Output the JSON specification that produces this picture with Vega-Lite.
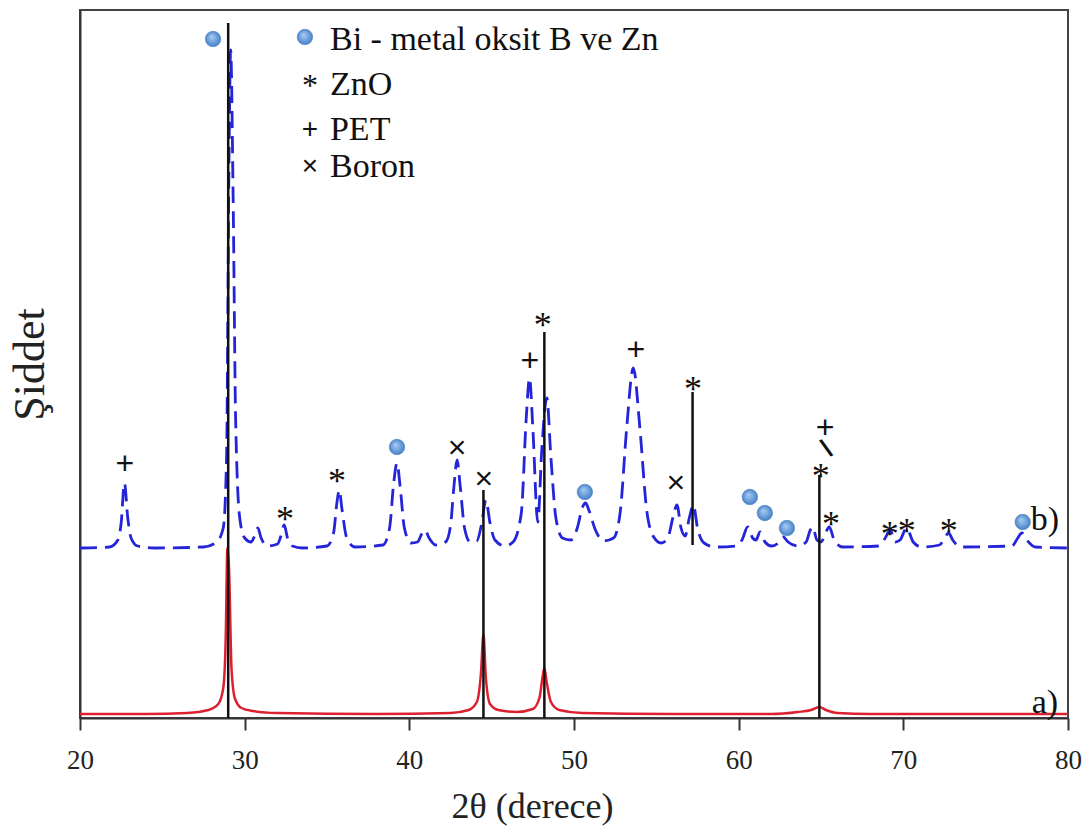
{
  "$schema": "https://vega.github.io/schema/vega-lite/v6.json",
  "width": 988,
  "height": 708,
  "autosize": {"type": "none"},
  "padding": {"left": 80, "top": 10, "right": 22, "bottom": 111},
  "background": "white",
  "config": {
    "view": {"stroke": "#444", "strokeWidth": 2},
    "axis": {"grid": false}
  },
  "datasets": {
    "curveA": [
      {"x": 20, "y": 4}, {"x": 24, "y": 4}, {"x": 26.5, "y": 5}, {"x": 27.8, "y": 8}, {"x": 28.4, "y": 14},
      {"x": 28.7, "y": 30}, {"x": 28.85, "y": 80}, {"x": 28.95, "y": 170}, {"x": 29.05, "y": 150}, {"x": 29.2, "y": 50},
      {"x": 29.4, "y": 20}, {"x": 29.8, "y": 10}, {"x": 30.5, "y": 7}, {"x": 32, "y": 5}, {"x": 38, "y": 4},
      {"x": 42.5, "y": 5}, {"x": 43.6, "y": 8}, {"x": 44.1, "y": 16}, {"x": 44.35, "y": 45}, {"x": 44.5, "y": 84},
      {"x": 44.65, "y": 40}, {"x": 44.9, "y": 14}, {"x": 45.4, "y": 8}, {"x": 46.5, "y": 6}, {"x": 47.5, "y": 9},
      {"x": 47.9, "y": 20}, {"x": 48.1, "y": 42}, {"x": 48.2, "y": 50}, {"x": 48.35, "y": 35}, {"x": 48.6, "y": 16},
      {"x": 49.1, "y": 8}, {"x": 50.5, "y": 5}, {"x": 56, "y": 4}, {"x": 62, "y": 4}, {"x": 63.6, "y": 6},
      {"x": 64.4, "y": 8}, {"x": 64.9, "y": 11}, {"x": 65.3, "y": 8}, {"x": 66, "y": 5}, {"x": 68, "y": 4}, {"x": 80, "y": 4}
    ],
    "curveB": [
      {"x": 20.0, "y": 170}, {"x": 21.8, "y": 171}, {"x": 22.3, "y": 178}, {"x": 22.5, "y": 195}, {"x": 22.7, "y": 235},
      {"x": 22.9, "y": 200}, {"x": 23.1, "y": 180}, {"x": 23.5, "y": 172}, {"x": 24.5, "y": 170}, {"x": 27.5, "y": 171},
      {"x": 28.3, "y": 176}, {"x": 28.7, "y": 190}, {"x": 28.9, "y": 260}, {"x": 29.05, "y": 560}, {"x": 29.15, "y": 668},
      {"x": 29.3, "y": 520}, {"x": 29.45, "y": 300}, {"x": 29.7, "y": 200}, {"x": 30.0, "y": 180}, {"x": 30.4, "y": 176},
      {"x": 30.6, "y": 182}, {"x": 30.8, "y": 190}, {"x": 31.0, "y": 180}, {"x": 31.4, "y": 172}, {"x": 32.0, "y": 174},
      {"x": 32.2, "y": 182}, {"x": 32.4, "y": 193}, {"x": 32.6, "y": 180}, {"x": 32.9, "y": 172}, {"x": 33.5, "y": 170},
      {"x": 35.0, "y": 172}, {"x": 35.4, "y": 185}, {"x": 35.6, "y": 215}, {"x": 35.75, "y": 228}, {"x": 35.9, "y": 210},
      {"x": 36.2, "y": 180}, {"x": 36.7, "y": 171}, {"x": 38.4, "y": 173}, {"x": 38.8, "y": 190}, {"x": 39.05, "y": 235},
      {"x": 39.25, "y": 255}, {"x": 39.45, "y": 230}, {"x": 39.7, "y": 190}, {"x": 40.1, "y": 175}, {"x": 40.5, "y": 176},
      {"x": 40.75, "y": 184}, {"x": 40.95, "y": 188}, {"x": 41.2, "y": 180}, {"x": 41.6, "y": 173}, {"x": 42.2, "y": 176},
      {"x": 42.5, "y": 192}, {"x": 42.7, "y": 230}, {"x": 42.9, "y": 258}, {"x": 43.1, "y": 230}, {"x": 43.35, "y": 190},
      {"x": 43.7, "y": 176}, {"x": 44.1, "y": 177}, {"x": 44.4, "y": 195}, {"x": 44.65, "y": 218}, {"x": 44.9, "y": 195},
      {"x": 45.2, "y": 178}, {"x": 45.8, "y": 172}, {"x": 46.3, "y": 176}, {"x": 46.8, "y": 205}, {"x": 47.1, "y": 300},
      {"x": 47.3, "y": 340}, {"x": 47.5, "y": 290}, {"x": 47.8, "y": 196}, {"x": 48.05, "y": 270}, {"x": 48.35, "y": 320},
      {"x": 48.6, "y": 260}, {"x": 48.9, "y": 200}, {"x": 49.3, "y": 180}, {"x": 49.8, "y": 178}, {"x": 50.2, "y": 190},
      {"x": 50.5, "y": 210}, {"x": 50.7, "y": 215}, {"x": 50.9, "y": 208}, {"x": 51.3, "y": 188}, {"x": 51.8, "y": 177},
      {"x": 52.4, "y": 180}, {"x": 52.8, "y": 205}, {"x": 53.2, "y": 290}, {"x": 53.6, "y": 350}, {"x": 54.0, "y": 290},
      {"x": 54.4, "y": 210}, {"x": 54.8, "y": 182}, {"x": 55.3, "y": 175}, {"x": 55.7, "y": 180}, {"x": 56.0, "y": 200},
      {"x": 56.25, "y": 213}, {"x": 56.5, "y": 190}, {"x": 56.75, "y": 182}, {"x": 57.0, "y": 200}, {"x": 57.25, "y": 213},
      {"x": 57.5, "y": 190}, {"x": 57.9, "y": 175}, {"x": 58.6, "y": 171}, {"x": 59.8, "y": 172}, {"x": 60.2, "y": 178},
      {"x": 60.55, "y": 191}, {"x": 60.85, "y": 180}, {"x": 61.05, "y": 178}, {"x": 61.3, "y": 186}, {"x": 61.6, "y": 176},
      {"x": 62.0, "y": 172}, {"x": 62.4, "y": 175}, {"x": 62.7, "y": 181}, {"x": 63.0, "y": 176}, {"x": 63.6, "y": 172},
      {"x": 64.1, "y": 176}, {"x": 64.35, "y": 188}, {"x": 64.5, "y": 191}, {"x": 64.75, "y": 178}, {"x": 65.0, "y": 176},
      {"x": 65.3, "y": 186}, {"x": 65.5, "y": 191}, {"x": 65.8, "y": 178}, {"x": 66.3, "y": 171}, {"x": 68.5, "y": 172},
      {"x": 68.9, "y": 180}, {"x": 69.2, "y": 188}, {"x": 69.5, "y": 176}, {"x": 69.8, "y": 178}, {"x": 70.2, "y": 190},
      {"x": 70.6, "y": 176}, {"x": 71.1, "y": 171}, {"x": 72.2, "y": 173}, {"x": 72.5, "y": 180}, {"x": 72.75, "y": 185},
      {"x": 73.0, "y": 178}, {"x": 73.5, "y": 171}, {"x": 76.6, "y": 172}, {"x": 76.95, "y": 180}, {"x": 77.2, "y": 185},
      {"x": 77.5, "y": 178}, {"x": 78.0, "y": 171}, {"x": 80.0, "y": 170}
    ],
    "rules": [
      {"x": 29.0, "y": 0, "y2": 695},
      {"x": 44.5, "y": 0, "y2": 228},
      {"x": 48.2, "y": 0, "y2": 386},
      {"x": 57.2, "y": 173, "y2": 326},
      {"x": 64.9, "y": 0, "y2": 243}
    ],
    "symMid": [
      {"x": 22.73, "y": 255, "label": "+"},
      {"x": 42.9, "y": 271, "label": "×"},
      {"x": 44.53, "y": 240, "label": "×"},
      {"x": 47.32, "y": 358, "label": "+"},
      {"x": 53.76, "y": 369, "label": "+"},
      {"x": 56.19, "y": 236, "label": "×"},
      {"x": 65.25, "y": 291, "label": "+"}
    ],
    "slash": [
      {"x": 65.35, "y": 269, "label": "\\"}
    ],
    "symStar": [
      {"x": 32.45, "y": 208, "label": "*"},
      {"x": 35.6, "y": 246, "label": "*"},
      {"x": 48.1, "y": 402, "label": "*"},
      {"x": 57.22, "y": 338, "label": "*"},
      {"x": 64.99, "y": 251, "label": "*"},
      {"x": 65.6, "y": 203, "label": "*"},
      {"x": 69.18, "y": 193, "label": "*"},
      {"x": 70.21, "y": 196, "label": "*"},
      {"x": 72.76, "y": 196, "label": "*"}
    ],
    "circles": [
      {"x": 28.08, "y": 679},
      {"x": 39.25, "y": 271},
      {"x": 50.66, "y": 226},
      {"x": 60.68, "y": 221},
      {"x": 61.59, "y": 205},
      {"x": 62.93, "y": 190},
      {"x": 77.25, "y": 196},
      {"x": 33.66, "y": 681}
    ],
    "curveLabels": [
      {"x": 78.6, "y": 188, "label": "b)"},
      {"x": 78.6, "y": 5, "label": "a)"}
    ],
    "legendText": [
      {"x": 35.18, "y": 668, "label": "Bi - metal oksit B ve Zn"},
      {"x": 35.18, "y": 623, "label": "ZnO"},
      {"x": 35.18, "y": 578, "label": "PET"},
      {"x": 35.18, "y": 541, "label": "Boron"}
    ],
    "legendSymMid": [
      {"x": 33.97, "y": 590, "label": "+"},
      {"x": 33.97, "y": 553, "label": "×"}
    ],
    "legendSymStar": [
      {"x": 33.97, "y": 640, "label": "*"}
    ]
  },
  "encoding": {
    "x": {
      "field": "x", "type": "quantitative",
      "scale": {"domain": [20, 80], "nice": false, "zero": false},
      "axis": {
        "values": [20, 30, 40, 50, 60, 70, 80],
        "title": "2θ (derece)",
        "labelFont": "Liberation Serif", "labelFontSize": 27, "labelColor": "#222",
        "labelPadding": 17, "labelFlush": false, "labelOverlap": false,
        "tickSize": 12, "tickWidth": 2, "tickColor": "#333",
        "domainColor": "#333", "domainWidth": 2,
        "titleFont": "Liberation Serif", "titleFontSize": 36, "titleFontWeight": "normal",
        "titleColor": "#222", "titlePadding": 16, "titleX": 452, "titleAlign": "center"
      }
    },
    "y": {
      "field": "y", "type": "quantitative",
      "scale": {"domain": [0, 708], "nice": false, "zero": false},
      "axis": {
        "title": "Şiddet",
        "labels": false, "ticks": false,
        "domainColor": "#333", "domainWidth": 2,
        "titleFont": "Liberation Serif", "titleFontSize": 44, "titleFontWeight": "normal",
        "titleColor": "#222", "titlePadding": 28
      }
    }
  },
  "layer": [
    {
      "data": {"name": "curveA"},
      "mark": {"type": "line", "color": "#dd2030", "strokeWidth": 2.5, "interpolate": "monotone"}
    },
    {
      "data": {"name": "curveB"},
      "mark": {"type": "line", "color": "#2424d8", "strokeWidth": 2.8, "strokeDash": [17, 8], "interpolate": "monotone"}
    },
    {
      "data": {"name": "rules"},
      "mark": {"type": "rule", "color": "#111", "strokeWidth": 2.5},
      "encoding": {"y2": {"field": "y2"}}
    },
    {
      "data": {"name": "circles"},
      "mark": {
        "type": "point", "shape": "circle", "filled": true, "size": 240, "opacity": 1,
        "fill": {"gradient": "radial", "x1": 0.4, "y1": 0.35, "r1": 0, "x2": 0.5, "y2": 0.5, "r2": 0.55,
          "stops": [{"offset": 0, "color": "#a9cdf3"}, {"offset": 1, "color": "#3f7cc6"}]},
        "stroke": "#4a80c0", "strokeWidth": 0.6
      }
    },
    {
      "data": {"name": "symMid"},
      "mark": {"type": "text", "font": "Liberation Sans", "fontSize": 32, "color": "#111", "align": "center", "baseline": "alphabetic", "dy": 11},
      "encoding": {"text": {"field": "label"}}
    },
    {
      "data": {"name": "slash"},
      "mark": {"type": "text", "font": "Liberation Sans", "fontSize": 26, "color": "#111", "align": "center", "baseline": "middle", "angle": 335, "fontWeight": "bold"},
      "encoding": {"text": {"field": "label"}}
    },
    {
      "data": {"name": "symStar"},
      "mark": {"type": "text", "font": "Liberation Serif", "fontSize": 36, "color": "#111", "align": "center", "baseline": "alphabetic", "dy": 21},
      "encoding": {"text": {"field": "label"}}
    },
    {
      "data": {"name": "legendSymMid"},
      "mark": {"type": "text", "font": "Liberation Sans", "fontSize": 28, "color": "#111", "align": "center", "baseline": "alphabetic", "dy": 10},
      "encoding": {"text": {"field": "label"}}
    },
    {
      "data": {"name": "legendSymStar"},
      "mark": {"type": "text", "font": "Liberation Serif", "fontSize": 32, "color": "#111", "align": "center", "baseline": "alphabetic", "dy": 18},
      "encoding": {"text": {"field": "label"}}
    },
    {
      "data": {"name": "curveLabels"},
      "mark": {"type": "text", "font": "Liberation Serif", "fontSize": 34, "color": "#111", "align": "center", "baseline": "alphabetic"},
      "encoding": {"text": {"field": "label"}}
    },
    {
      "data": {"name": "legendText"},
      "mark": {"type": "text", "font": "Liberation Serif", "fontSize": 34, "color": "#111", "align": "left", "baseline": "alphabetic"},
      "encoding": {"text": {"field": "label"}}
    }
  ]
}
